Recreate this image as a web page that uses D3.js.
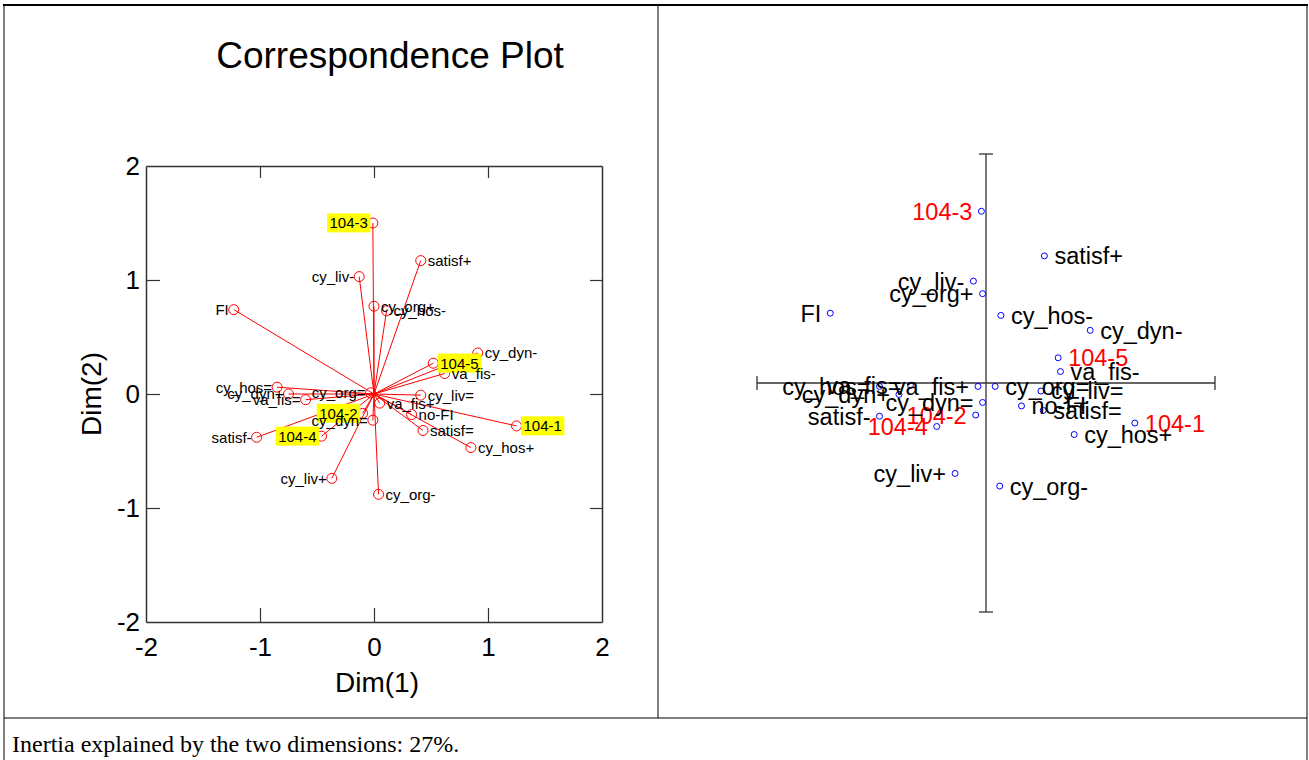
<!DOCTYPE html>
<html><head><meta charset="utf-8">
<script src="https://cdn.jsdelivr.net/npm/d3@7"></script>
<style>
body{margin:0;background:#fff}
svg{display:block}
text{font-family:Arial,"Liberation Sans",sans-serif}
</style>
</head><body>
<svg id="c" width="1309" height="760"></svg>
<script>
// ---- data ----
const labels = ["104-1","104-2","104-3","104-4","104-5","satisf+","satisf=","satisf-","cy_liv-","cy_liv=","cy_liv+","cy_org+","cy_org=","cy_org-","cy_hos-","cy_hos=","cy_hos+","cy_dyn-","cy_dyn=","cy_dyn+","va_fis-","va_fis=","va_fis+","FI","no-FI"];
const dim1Left  = [1.25,-0.10,-0.01,-0.46,0.52, 0.41,0.43,-1.03, -0.13,0.41,-0.37, 0.00,-0.03,0.04, 0.11,-0.85,0.85, 0.91,-0.01,-0.75, 0.62,-0.60,0.05, -1.23,0.33];
const dim2Left  = [-0.28,-0.17,1.50,-0.37,0.27, 1.17,-0.32,-0.38, 1.03,-0.01,-0.74, 0.77,0.01,-0.88, 0.73,0.06,-0.47, 0.36,-0.23,0.00, 0.18,-0.05,-0.08, 0.74,-0.18];
const dim1Right = [1.30,-0.09,-0.04,-0.43,0.63, 0.51,0.50,-0.93, -0.11,0.48,-0.27, -0.03,0.08,0.12, 0.13,-0.93,0.77, 0.91,-0.03,-0.76, 0.65,-0.66,-0.07, -1.36,0.31];
const dim2Right = [-0.35,-0.28,1.50,-0.38,0.22, 1.11,-0.24,-0.29, 0.89,-0.07,-0.79, 0.78,-0.03,-0.90, 0.59,-0.03,-0.45, 0.46,-0.17,-0.10, 0.10,-0.02,-0.03, 0.61,-0.20];
const axisTicks = [-2,-1,0,1,2];
const axisTickLabels = ["-2","-1","0","1","2"];
const axisDomain = [-2,2];
const titleText = "Correspondence Plot";
const xTitle = "Dim(1)";
const yTitle = "Dim(2)";
const caption = "Inertia explained by the two dimensions: 27%.";

const svg = d3.select("#c");
const isSite = s => /^104-/.test(s);
const tickFmt = d => axisTickLabels[axisTicks.indexOf(d)];

// ---- table frame ----
const frame = svg.append("g").attr("stroke","#000").attr("fill","none");
frame.append("line").attr("x1",3).attr("x2",1308).attr("y1",5).attr("y2",5).attr("stroke-width",2);
frame.append("line").attr("x1",4).attr("x2",4).attr("y1",4).attr("y2",760);
frame.append("line").attr("x1",1307).attr("x2",1307).attr("y1",4).attr("y2",760);
frame.append("line").attr("x1",658).attr("x2",658).attr("y1",5).attr("y2",718);
frame.append("line").attr("x1",4).attr("x2",1307).attr("y1",718).attr("y2",718);
svg.append("text").attr("x",12).attr("y",752)
  .style("font-family","'Liberation Serif','Times New Roman',serif").style("font-size","24px")
  .text(caption);

// ---- left plot ----
const L = {x0:146,x1:602,y0:622,y1:166};
const xL = d3.scaleLinear().domain(axisDomain).range([L.x0,L.x1]);
const yL = d3.scaleLinear().domain(axisDomain).range([L.y0,L.y1]);

svg.append("text").attr("x",390).attr("y",68).attr("text-anchor","middle")
  .style("font-size","37px").text(titleText);

const axStyle = g => {
  g.selectAll(".domain").attr("stroke","#333").attr("stroke-width",1.5);
  g.selectAll(".tick line").attr("stroke","#333").attr("stroke-width",1.2);
};
svg.append("g").attr("transform",`translate(${L.x0},0)`)
  .call(d3.axisLeft(yL).tickValues(axisTicks).tickSizeInner(-14).tickSizeOuter(0).tickPadding(6).tickFormat(tickFmt))
  .call(axStyle)
  .call(g=>g.selectAll(".tick text").style("font-size","26px").style("font-family","Arial").attr("fill","#000"))
  .call(g=>g.selectAll(".tick").filter(d=>d===-2||d===2).select("line").remove());
svg.append("g").attr("transform",`translate(0,${L.y0})`)
  .call(d3.axisBottom(xL).tickValues(axisTicks).tickSizeInner(-14).tickSizeOuter(0).tickPadding(16).tickFormat(tickFmt))
  .call(axStyle)
  .call(g=>g.selectAll(".tick text").style("font-size","26px").style("font-family","Arial").attr("fill","#000"))
  .call(g=>g.selectAll(".tick").filter(d=>d===-2||d===2).select("line").remove());
svg.append("g").attr("transform",`translate(${L.x1},0)`)
  .call(d3.axisRight(yL).tickValues(axisTicks.slice(1,-1)).tickSizeInner(-12).tickSizeOuter(0).tickFormat(""))
  .call(axStyle);
svg.append("g").attr("transform",`translate(0,${L.y1})`)
  .call(d3.axisTop(xL).tickValues(axisTicks.slice(1,-1)).tickSizeInner(-12).tickSizeOuter(0).tickFormat(""))
  .call(axStyle);

svg.append("text").attr("x",xL(0)+3).attr("y",692).attr("text-anchor","middle")
  .style("font-size","28px").text(xTitle);
svg.append("text").attr("transform",`translate(101,${yL(0)}) rotate(-90)`).attr("text-anchor","middle")
  .style("font-size","28px").text(yTitle);

const leftPts = labels.map((n,i)=>({n,x:dim1Left[i],y:dim2Left[i]}));
const gl = svg.append("g");
gl.selectAll("line.ray").data(leftPts).join("line").attr("class","ray")
  .attr("x1",xL(0)).attr("y1",yL(0)).attr("x2",d=>xL(d.x)).attr("y2",d=>yL(d.y))
  .attr("stroke","#ff0000").attr("stroke-width",1);
gl.selectAll("circle").data(leftPts).join("circle")
  .attr("cx",d=>xL(d.x)).attr("cy",d=>yL(d.y)).attr("r",5)
  .attr("fill","none").attr("stroke","#ff0000").attr("stroke-width",1);
const lt = gl.selectAll("g.lab").data(leftPts).join("g").attr("class","lab");
lt.each(function(d){
  const g = d3.select(this);
  const right = d.x >= 0;
  const t = g.append("text")
    .attr("x", xL(d.x) + (right?7:-5)).attr("y", yL(d.y)).attr("dy","0.36em")
    .attr("text-anchor", right?"start":"end")
    .style("font-size","15px").attr("fill","#000").text(d.n);
  if (isSite(d.n)) {
    const b = t.node().getBBox();
    g.insert("rect","text").attr("x",b.x-2.5).attr("y",b.y-1).attr("width",b.width+5).attr("height",b.height+2)
      .attr("fill","#ffff00");
  }
});

// ---- right plot ----
const R = {x0:757,x1:1215,y0:612,y1:154};
const xR = d3.scaleLinear().domain(axisDomain).range([R.x0,R.x1]);
const yR = d3.scaleLinear().domain(axisDomain).range([R.y0,R.y1]);
const ga = svg.append("g").attr("stroke","#333").attr("stroke-width",1.3);
ga.append("line").attr("x1",xR(-2)).attr("x2",xR(2)).attr("y1",yR(0)).attr("y2",yR(0));
ga.append("line").attr("x1",xR(0)).attr("x2",xR(0)).attr("y1",yR(-2)).attr("y2",yR(2));
[-2,2].forEach(v=>{
  ga.append("line").attr("x1",xR(v)).attr("x2",xR(v)).attr("y1",yR(0)-7).attr("y2",yR(0)+7);
  ga.append("line").attr("x1",xR(0)-7).attr("x2",xR(0)+7).attr("y1",yR(v)).attr("y2",yR(v));
});
const rightPts = labels.map((n,i)=>({n,x:dim1Right[i],y:dim2Right[i]}));
const gr = svg.append("g");
gr.selectAll("circle").data(rightPts).join("circle")
  .attr("cx",d=>xR(d.x)).attr("cy",d=>yR(d.y)).attr("r",3)
  .attr("fill","none").attr("stroke","#0000ff").attr("stroke-width",1);
gr.selectAll("text").data(rightPts).join("text")
  .attr("x",d=>xR(d.x)+(d.x>=0?10:-9)).attr("y",d=>yR(d.y)).attr("dy","0.36em")
  .attr("text-anchor",d=>d.x>=0?"start":"end")
  .style("font-size","23.5px").attr("fill",d=>isSite(d.n)?"#ff0000":"#000").text(d=>d.n);
</script>
</body></html>
